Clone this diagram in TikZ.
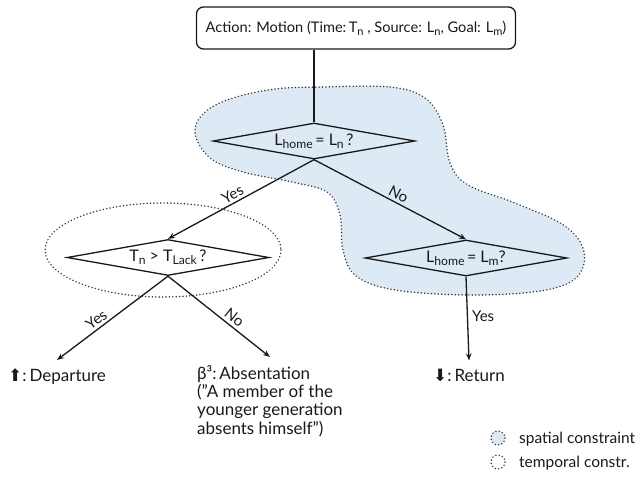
\documentclass[tikz,border=0pt]{standalone}
\usepackage{fontspec}
\setmainfont{Lato}
\newfontfamily\symfont{DejaVu Sans}
\usetikzlibrary{shapes.geometric,arrows.meta,calc}
\definecolor{spatialblue}{RGB}{221,234,246}
\definecolor{ink}{RGB}{25,25,25}
\definecolor{dotgray}{RGB}{55,55,55}
% lowered, slightly reduced index text
\newcommand\lsub[1]{\raisebox{-0.38ex}{\scalebox{0.76}{#1}}}

\begin{document}
\begin{tikzpicture}[x=1pt,y=-1pt,
  every node/.style={text=ink},
  decision/.style={diamond, aspect=5.6, draw=ink, line width=1.3pt, inner sep=0pt,
    minimum width=202pt, minimum height=36pt, font=\fontsize{16}{18}\selectfont},
  actionbox/.style={draw=ink, line width=1.3pt, rounded corners=7pt,
    minimum width=319pt, minimum height=42pt, inner sep=0pt,
    font=\fontsize{14.6}{18}\selectfont},
  link/.style={draw=ink, line width=1.3pt},
  flow/.style={link, -{Stealth[length=7pt,width=5.5pt]}},
  branch/.style={font=\fontsize{15}{17}\selectfont, sloped, above, inner sep=2.5pt},
  region/.style={dotgray, line width=1.6pt, dash pattern=on 0.1pt off 3.3pt, line cap=round},
  outcome/.style={align=left, inner xsep=0pt, inner ysep=8pt,
    font=\fontsize{17}{18.3}\selectfont},
  legend/.style={font=\fontsize{15.5}{17}\selectfont, anchor=west, inner sep=0pt}
]
\useasboundingbox (0,0) rectangle (644,482);

% spatial constraint region
\draw[region, fill=spatialblue] plot[smooth cycle, tension=0.6] coordinates {
  (323,87) (390,87) (425,98) (443,125) (450,163) (468,185) (515,203)
  (565,226) (584,252) (576,278) (540,291) (470,295) (395,290) (356,276)
  (343,250) (340,215) (327,192) (292,182) (243,172) (210,158) (195,133)
  (204,113) (230,99) (275,89)};

% temporal constraint region
\draw[region] (163,250) ellipse [x radius=118, y radius=47];

% action and decisions
\node[actionbox] (act) at (356,28)
  {Action: Motion (Time:\,T\lsub{n} , Source: L\lsub{n}, Goal: L\lsub{m})};
\node[decision] (home) at (314,141) {L\lsub{home}\,= L\lsub{n}\,?};
\node[decision] (lack) at (168,257.5) {T\lsub{n} > T\lsub{Lack}\,?};
\node[decision] (goal) at (466,258) {L\lsub{home}\,= L\lsub{m}?};

% outcomes
\node[outcome, anchor=base west] (dep) at (8,381) {{\symfont ⬆}:\,Departure};
\node[outcome, anchor=north west] (abs) at (197,357)
  {β³:\,Absentation\\("A member of the\\younger generation\\absents himself")};
\node[outcome, anchor=base west] (ret) at (433,381) {{\symfont ⬇}:\,Return};

% connectors
\draw[link] (act.south -| home.north) -- (home.north);
\draw[flow] (home.south) -- node[branch, pos=0.53] {Yes} (lack.north);
\draw[flow] (home.south) -- node[branch, pos=0.53] {No} (goal.north);
\draw[flow] (lack.south) -- node[branch, pos=0.6] {Yes} (dep.north);
\draw[flow] (lack.south) -- node[branch, pos=0.6] {No} (abs.north);
\draw[flow] (goal.south) -- node[right, pos=0.47, inner sep=4pt,
  font=\fontsize{15}{17}\selectfont] {Yes} (ret.north);

% legend
\draw[region, fill=spatialblue] (498,438) circle [radius=7];
\node[legend] (lspatial) at (519,439) {spatial constraint};
\draw[region] (498,462) circle [radius=7];
\node[legend] (ltemporal) at (519,463) {temporal constr.};
\end{tikzpicture}
\end{document}
